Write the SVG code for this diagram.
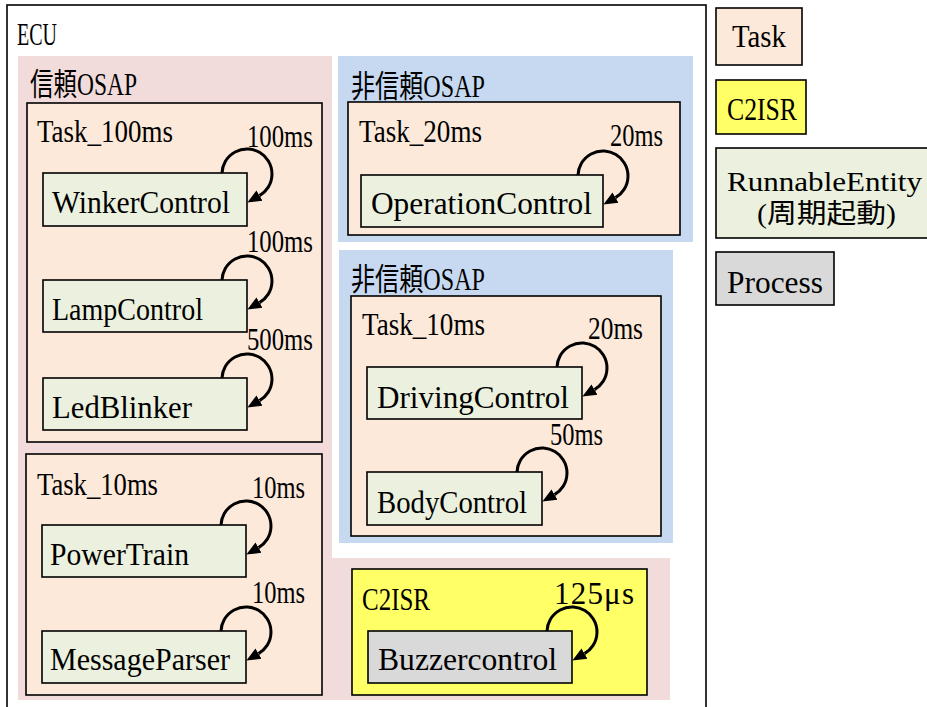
<svg xmlns="http://www.w3.org/2000/svg" width="927" height="707" viewBox="0 0 927 707">
<style>
.t{font-family:"Liberation Serif","Noto Sans CJK JP",serif;font-size:31px;fill:#000}
.s{font-size:27px}
.task{fill:#fde9d9;stroke:#000;stroke-width:1.6}
.re{fill:#ebf1de;stroke:#000;stroke-width:1.6}
.isr{fill:#ffff66;stroke:#000;stroke-width:1.6}
.proc{fill:#d9d9d9;stroke:#000;stroke-width:1.6}
.loop{fill:none;stroke:#000;stroke-width:3;marker-end:url(#ah)}
</style>
<defs>
<marker id="ah" markerUnits="userSpaceOnUse" markerWidth="16" markerHeight="14" refX="0" refY="6" orient="auto" viewBox="0 0 16 12">
<path d="M0,0 L14,6 L0,12 Z" fill="#000"/>
</marker>
</defs>
<rect width="927" height="707" fill="#fff"/>
<g id="ecu">
<rect x="7" y="5" width="699" height="720" fill="#fff" stroke="#000" stroke-width="1.6"/>
<text class="t" x="17" y="45" textLength="40" lengthAdjust="spacingAndGlyphs">ECU</text>
</g>
<g id="trusted-osap">
<polygon points="18,56 332,56 332,558 670,558 670,700 18,700" fill="#f2dcdb"/>
<text class="t" x="30" y="95" textLength="107" lengthAdjust="spacingAndGlyphs">信頼OSAP</text>
</g>
<g id="untrusted-osap-1">
<rect x="338" y="56" width="355" height="186" fill="#c6d9f1"/>
<text class="t" x="351" y="97" textLength="134" lengthAdjust="spacingAndGlyphs">非信頼OSAP</text>
</g>
<g id="untrusted-osap-2">
<rect x="339" y="250" width="334" height="293" fill="#c6d9f1"/>
<text class="t" x="351" y="290" textLength="134" lengthAdjust="spacingAndGlyphs">非信頼OSAP</text>
</g>
<g id="task-100ms">
<rect class="task" x="27" y="103" width="295" height="339"/>
<text class="t" x="37" y="142" textLength="136" lengthAdjust="spacingAndGlyphs">Task_100ms</text>
</g>
<g id="task-10ms-a">
<rect class="task" x="26" y="454" width="296" height="241"/>
<text class="t" x="37" y="495" textLength="121" lengthAdjust="spacingAndGlyphs">Task_10ms</text>
</g>
<g id="task-20ms">
<rect class="task" x="348" y="102" width="332" height="133"/>
<text class="t" x="359" y="142" textLength="123" lengthAdjust="spacingAndGlyphs">Task_20ms</text>
</g>
<g id="task-10ms-b">
<rect class="task" x="351" y="296" width="310" height="240"/>
<text class="t" x="362" y="335" textLength="123" lengthAdjust="spacingAndGlyphs">Task_10ms</text>
</g>
<g id="c2isr">
<rect class="isr" x="352" y="569" width="295" height="126"/>
<text class="t" x="362" y="610" textLength="68" lengthAdjust="spacingAndGlyphs">C2ISR</text>
</g>
<g id="winker">
<rect class="re" x="43" y="173" width="204" height="53"/>
<text class="t" x="52" y="213" textLength="178" lengthAdjust="spacingAndGlyphs">WinkerControl</text>
</g>
<g id="lamp">
<rect class="re" x="43" y="280" width="204" height="52"/>
<text class="t" x="52" y="320" textLength="151" lengthAdjust="spacingAndGlyphs">LampControl</text>
</g>
<g id="led">
<rect class="re" x="43" y="378" width="204" height="52"/>
<text class="t" x="52" y="418" textLength="140" lengthAdjust="spacingAndGlyphs">LedBlinker</text>
</g>
<g id="powertrain">
<rect class="re" x="42" y="525" width="204" height="52"/>
<text class="t" x="50" y="565" textLength="139" lengthAdjust="spacingAndGlyphs">PowerTrain</text>
</g>
<g id="msgparser">
<rect class="re" x="42" y="631" width="204" height="52"/>
<text class="t" x="50" y="670" textLength="180" lengthAdjust="spacingAndGlyphs">MessageParser</text>
</g>
<g id="operation">
<rect class="re" x="361" y="175" width="242" height="52"/>
<text class="t" x="371" y="214" textLength="221" lengthAdjust="spacingAndGlyphs">OperationControl</text>
</g>
<g id="driving">
<rect class="re" x="367" y="367" width="215" height="52"/>
<text class="t" x="377" y="408" textLength="192" lengthAdjust="spacingAndGlyphs">DrivingControl</text>
</g>
<g id="body">
<rect class="re" x="367" y="472" width="175" height="53"/>
<text class="t" x="377" y="513" textLength="150" lengthAdjust="spacingAndGlyphs">BodyControl</text>
</g>
<g id="buzzer">
<rect class="proc" x="368" y="631" width="204" height="52"/>
<text class="t" x="378" y="670" textLength="179" lengthAdjust="spacingAndGlyphs">Buzzercontrol</text>
</g>
<g id="connectors">
<path class="loop" d="M222,173 A25,25 0 1 1 259.5,195.6"/>
<path class="loop" d="M222,280 A25,25 0 1 1 259.5,302.6"/>
<path class="loop" d="M222,378 A25,25 0 1 1 259.5,400.6"/>
<path class="loop" d="M221,525 A25,25 0 1 1 258.5,547.6"/>
<path class="loop" d="M221,631 A25,25 0 1 1 258.5,653.6"/>
<path class="loop" d="M578,175 A25,25 0 1 1 615.5,197.6"/>
<path class="loop" d="M557,367 A25,25 0 1 1 594.5,389.6"/>
<path class="loop" d="M517,472 A25,25 0 1 1 554.5,494.6"/>
<path class="loop" d="M547,631 A25,25 0 1 1 584.5,653.6"/>
<text class="t" x="247" y="147" textLength="66" lengthAdjust="spacingAndGlyphs">100ms</text>
<text class="t" x="247" y="252" textLength="66" lengthAdjust="spacingAndGlyphs">100ms</text>
<text class="t" x="247" y="350" textLength="66" lengthAdjust="spacingAndGlyphs">500ms</text>
<text class="t" x="252" y="498" textLength="53" lengthAdjust="spacingAndGlyphs">10ms</text>
<text class="t" x="252" y="603" textLength="53" lengthAdjust="spacingAndGlyphs">10ms</text>
<text class="t" x="610" y="146" textLength="53" lengthAdjust="spacingAndGlyphs">20ms</text>
<text class="t" x="588" y="339" textLength="55" lengthAdjust="spacingAndGlyphs">20ms</text>
<text class="t" x="550" y="445" textLength="53" lengthAdjust="spacingAndGlyphs">50ms</text>
<text class="t" x="554" y="604" textLength="80" lengthAdjust="spacing">125μs</text>
</g>
<g id="legend-task">
<rect class="task" x="716" y="8" width="86" height="57"/>
<text class="t" x="732" y="47" textLength="54" lengthAdjust="spacingAndGlyphs">Task</text>
</g>
<g id="legend-c2isr">
<rect class="isr" x="716" y="80" width="90" height="54"/>
<text class="t" x="727" y="120" textLength="70" lengthAdjust="spacingAndGlyphs">C2ISR</text>
</g>
<g id="legend-runnable">
<rect class="re" x="716" y="148" width="215" height="90"/>
<text class="t s" x="727" y="191" textLength="195" lengthAdjust="spacingAndGlyphs">RunnableEntity</text>
<text class="t s" x="757" y="223" textLength="139" lengthAdjust="spacingAndGlyphs">(周期起動)</text>
</g>
<g id="legend-process">
<rect class="proc" x="716" y="252" width="118" height="53"/>
<text class="t" x="727" y="293" textLength="96" lengthAdjust="spacingAndGlyphs">Process</text>
</g>
</svg>
